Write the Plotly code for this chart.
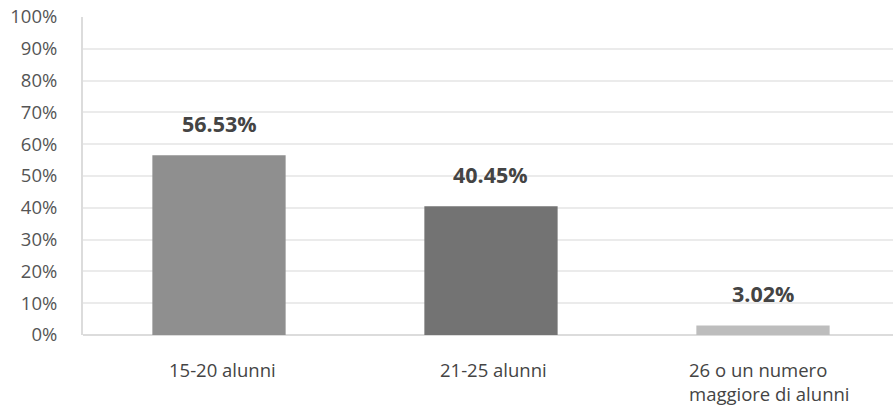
import plotly.graph_objects as go

categories = ["15-20 alunni", "21-25 alunni", "26 o un numero<br>maggiore di alunni"]
values = [56.53, 40.45, 3.02]
value_labels = ["56.53%", "40.45%", "3.02%"]
bar_colors = ["#8f8f8f", "#737373", "#bdbdbd"]
y_ticks = list(range(0, 101, 10))
y_tick_labels = [f"{v}%" for v in y_ticks]
label_align = ["center", "center", "left"]

FONT = "Open Sans, Noto Sans, sans-serif"

fig = go.Figure()
fig.add_trace(go.Bar(
    x=list(range(len(categories))),
    y=values,
    marker=dict(color=bar_colors, line=dict(width=0)),
    width=0.49,
    hoverinfo="skip",
))

annotations = []
for i, (v, t) in enumerate(zip(values, value_labels)):
    annotations.append(dict(
        x=i, y=v, xref="x", yref="y", text=f"<b>{t}</b>", showarrow=False,
        yanchor="middle", yshift=32,
        font=dict(family=FONT, size=21.5, color="#444444"),
    ))
for i, (c, al) in enumerate(zip(categories, label_align)):
    for k, line in enumerate(c.split("<br>")):
        annotations.append(dict(
            x=i, y=0, xref="x", yref="paper", text=line, showarrow=False,
            xanchor="left" if al == "left" else "center",
            yanchor="middle", align=al, borderpad=0,
            xshift=-75 if al == "left" else 3,
            yshift=-34 - 24.5 * k,
            font=dict(family=FONT, size=18.5, color="#444444"),
        ))

fig.update_layout(
    width=893, height=406,
    margin=dict(l=83, r=0, t=17, b=71),
    paper_bgcolor="white", plot_bgcolor="white",
    showlegend=False,
    annotations=annotations,
    font=dict(family=FONT, size=18, color="#555555"),
    xaxis=dict(
        range=[-0.5, 2.478], showticklabels=False, showgrid=False,
        zeroline=False, showline=False, fixedrange=True,
    ),
    yaxis=dict(
        range=[0, 100], tickvals=y_ticks, ticktext=y_tick_labels,
        showgrid=True, gridcolor="#ebebeb", gridwidth=2,
        showline=True, linecolor="#dcdcdc", linewidth=2,
        zeroline=True, zerolinecolor="#dcdcdc", zerolinewidth=2,
        ticks="", ticklabelstandoff=20,
        tickfont=dict(family=FONT, size=18.5, color="#555555"),
    ),
)

fig.write_html("out.html")
